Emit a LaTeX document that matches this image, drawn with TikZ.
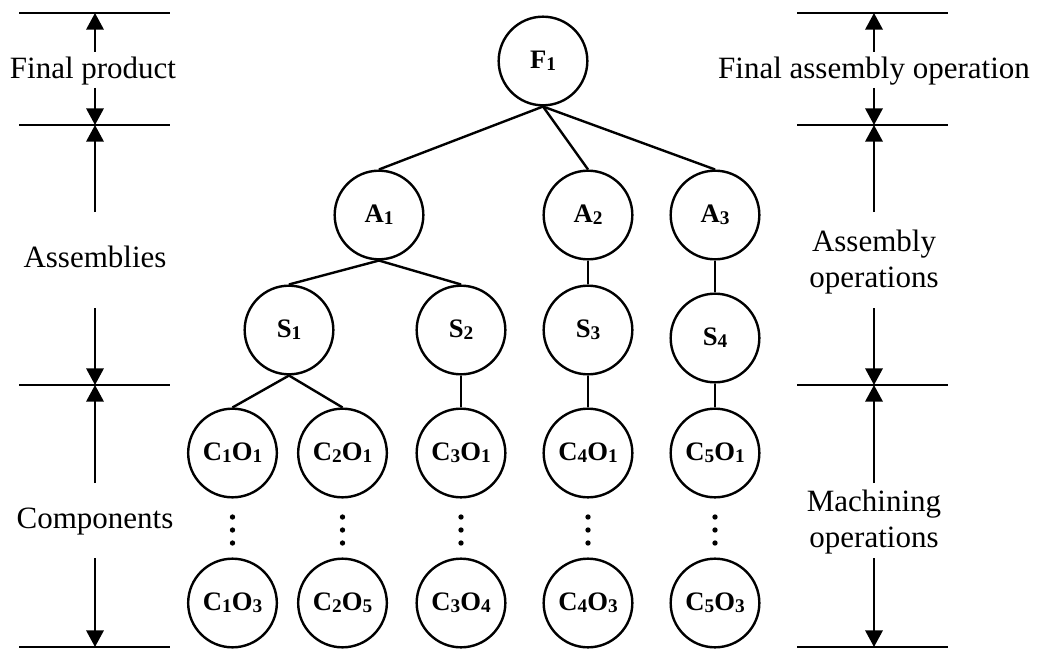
\documentclass[tikz,border=0pt]{standalone}
\usepackage{fontspec}
\setmainfont{Liberation Serif}
\usetikzlibrary{arrows.meta}
\newcommand\lo[1]{\raisebox{-1.5pt}{\fontsize{14.5pt}{14.5pt}\selectfont #1}}
\begin{document}
\begin{tikzpicture}[x=0.75pt,y=-0.75pt,
  nd/.style={circle,draw,line width=1.8pt,minimum size=66.5pt,inner sep=0pt,
    font=\fontsize{20pt}{20pt}\selectfont\bfseries},
  edge/.style={line width=1.8pt},
  rule/.style={line width=1.9pt},
  dimarrow/.style={line width=1.8pt,-{Triangle[length=12.5pt,width=13pt]}},
  lbl/.style={inner sep=0pt,font=\fontsize{23.25pt}{27pt}\selectfont,align=center},
  dot/.style={circle,fill,inner sep=0pt,minimum size=4pt}]
\useasboundingbox (0,0) rectangle (1041,649);

% tree nodes
\node[nd] (F1) at (543,61) {F\lo{1}};
\node[nd] (A1) at (379,215) {A\lo{1}};
\node[nd] (A2) at (588,215) {A\lo{2}};
\node[nd] (A3) at (715,215) {A\lo{3}};
\node[nd] (S1) at (289,330) {S\lo{1}};
\node[nd] (S2) at (461,330) {S\lo{2}};
\node[nd] (S3) at (588,330) {S\lo{3}};
\node[nd] (S4) at (715,338) {S\lo{4}};
\node[nd] (C11) at (232.5,453) {C\lo{1}O\lo{1}};
\node[nd] (C21) at (342.5,453) {C\lo{2}O\lo{1}};
\node[nd] (C31) at (461,453) {C\lo{3}O\lo{1}};
\node[nd] (C41) at (588,453) {C\lo{4}O\lo{1}};
\node[nd] (C51) at (715,453) {C\lo{5}O\lo{1}};
\node[nd] (C13) at (232.5,603) {C\lo{1}O\lo{3}};
\node[nd] (C25) at (342.5,603) {C\lo{2}O\lo{5}};
\node[nd] (C34) at (461,603) {C\lo{3}O\lo{4}};
\node[nd] (C43) at (588,603) {C\lo{4}O\lo{3}};
\node[nd] (C53) at (715,603) {C\lo{5}O\lo{3}};

% tree edges
\draw[edge] (F1.south) -- (A1.north);
\draw[edge] (F1.south) -- (A2.north);
\draw[edge] (F1.south) -- (A3.north);
\draw[edge] (A1.south) -- (S1.north);
\draw[edge] (A1.south) -- (S2.north);
\draw[edge] (A2.south) -- (S3.north);
\draw[edge] (A3.south) -- (S4.north);
\draw[edge] (S1.south) -- (C11.north);
\draw[edge] (S1.south) -- (C21.north);
\draw[edge] (S2.south) -- (C31.north);
\draw[edge] (S3.south) -- (C41.north);
\draw[edge] (S4.south) -- (C51.north);

% vertical dots
\foreach \x/\n in {232.5/a,342.5/b,461/c,588/d,715/e}{
  \node[dot] (d1\n) at (\x,517) {};
  \node[dot] (d2\n) at (\x,530) {};
  \node[dot] (d3\n) at (\x,543) {};
}

% left column rules
\foreach \y/\n in {13/1,125/2,385/3,647/4}{
  \coordinate (Ll\n) at (19,\y);
  \coordinate (Lr\n) at (170,\y);
  \coordinate (L\n) at (95,\y);
  \draw[rule] (Ll\n) -- (Lr\n);
  \coordinate (Rl\n) at (797,\y);
  \coordinate (Rr\n) at (948,\y);
  \coordinate (R\n) at (874,\y);
  \draw[rule] (Rl\n) -- (Rr\n);
}

% labels
\node[lbl,anchor=base] (fp) at (93,79) {Final product};
\node[lbl,anchor=base] (as) at (95,267) {Assemblies};
\node[lbl,anchor=base] (co) at (95,528) {Components};
\node[lbl,anchor=base] (fao) at (874,79) {Final assembly operation};
\node[lbl] (aso) at (874,262.5) {Assembly\\operations};
\node[lbl] (mo) at (874,522.5) {Machining\\operations};

% dimension arrow starts
\coordinate (lu1) at (95,52);  \coordinate (ld1) at (95,88);
\coordinate (lu2) at (95,212); \coordinate (ld2) at (95,308);
\coordinate (lu3) at (95,483); \coordinate (ld3) at (95,558);
\coordinate (ru1) at (874,52);  \coordinate (rd1) at (874,88);
\coordinate (ru2) at (874,212); \coordinate (rd2) at (874,308);
\coordinate (ru3) at (874,483); \coordinate (rd3) at (874,558);

\draw[dimarrow] (lu1) -- (L1);
\draw[dimarrow] (ld1) -- (L2);
\draw[dimarrow] (lu2) -- (L2);
\draw[dimarrow] (ld2) -- (L3);
\draw[dimarrow] (lu3) -- (L3);
\draw[dimarrow] (ld3) -- (L4);
\draw[dimarrow] (ru1) -- (R1);
\draw[dimarrow] (rd1) -- (R2);
\draw[dimarrow] (ru2) -- (R2);
\draw[dimarrow] (rd2) -- (R3);
\draw[dimarrow] (ru3) -- (R3);
\draw[dimarrow] (rd3) -- (R4);
\end{tikzpicture}
\end{document}
